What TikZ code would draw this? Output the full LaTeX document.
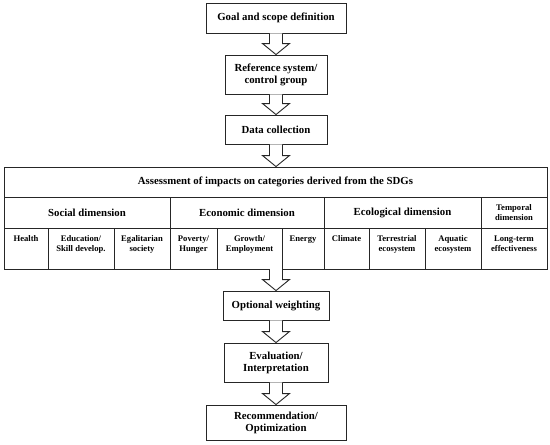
\documentclass[tikz,border=0pt]{standalone}
\usepackage{fontspec}
\setmainfont{Liberation Serif}
\usetikzlibrary{calc}
\newcommand\blockarrow[2]{%
  \draw[arrowline] let \p1=(#1), \p2=(#2) in
  (\x1-6.5pt,\y1) -- (\x1-6.5pt,\y2+11pt) -- (\x1-13.5pt,\y2+11pt) -- (\x1,\y2)
  -- (\x1+13.5pt,\y2+11pt) -- (\x1+6.5pt,\y2+11pt) -- (\x1+6.5pt,\y1);}
\newcommand\tcell[6]{%
  \node[cellbox, minimum width={(#4-#2)*1pt}, minimum height={(#5-#3)*1pt},
        label={[celltext]north:{#6}}] (#1) at ({(#2+#4)/2},{(#3+#5)/2}) {};}
\newcommand\dcell[6]{%
  \node[cellbox, minimum width={(#4-#2)*1pt}, minimum height={(#5-#3)*1pt}, #6] (#1) at ({(#2+#4)/2},{(#3+#5)/2})}
\begin{document}
\begin{tikzpicture}[x=1pt,y=-1pt,
  flowbox/.style={draw=black!85, line width=0.9pt, align=center, inner sep=0pt,
    font=\bfseries\fontsize{10.8}{12}\selectfont},
  cellbox/.style={draw=black!85, line width=0.9pt, inner sep=0pt, align=center},
  celltext/.style={font=\bfseries\fontsize{8.6}{9.8}\selectfont, align=center,
    anchor=north, inner sep=0pt, yshift=-8pt},
  bigtext/.style={font=\bfseries\fontsize{10.8}{12}\selectfont},
  smalltext/.style={font=\bfseries\fontsize{8.6}{9.8}\selectfont},
  arrowline/.style={draw=black!85, line width=0.9pt, fill=white, line join=miter}
]
\useasboundingbox (0,0) rectangle (550,445);

% flow boxes
\node[flowbox, minimum width=140pt, minimum height=30pt] (goal) at (276,18) {Goal and scope definition};
\node[flowbox, minimum width=102pt, minimum height=39pt] (ref) at (276,74.5) {Reference system/\\control group};
\node[flowbox, minimum width=102pt, minimum height=29pt] (data) at (276,129.5) {Data collection};

% table
\dcell{head}{4}{167}{547}{197}{bigtext}{Assessment of impacts on categories derived from the SDGs};
\dcell{social}{4}{197}{170}{228}{bigtext}{Social dimension};
\dcell{economic}{170}{197}{324}{228}{bigtext}{Economic dimension};
\dcell{ecological}{324}{197}{481}{228}{bigtext}{Ecological dimension};
\dcell{temporal}{481}{197}{547}{228}{smalltext}{Temporal\\dimension};
\tcell{health}{4}{228}{48}{269}{Health}
\tcell{education}{48}{228}{114}{269}{Education/\\Skill develop.}
\tcell{egal}{114}{228}{170}{269}{Egalitarian\\society}
\tcell{poverty}{170}{228}{217}{269}{Poverty/\\Hunger}
\tcell{growth}{217}{228}{282}{269}{Growth/\\Employment}
\tcell{energy}{282}{228}{324}{269}{Energy}
\tcell{climate}{324}{228}{369}{269}{Climate}
\tcell{terr}{369}{228}{425}{269}{Terrestrial\\ecosystem}
\tcell{aqua}{425}{228}{481}{269}{Aquatic\\ecosystem}
\tcell{longterm}{481}{228}{547}{269}{Long-term\\effectiveness}
\coordinate (tablebottom) at (276,269);

\node[flowbox, minimum width=106pt, minimum height=29pt] (opt) at (276,305.5) {Optional weighting};
\node[flowbox, minimum width=104pt, minimum height=39pt] (eval) at (276,362.5) {Evaluation/\\Interpretation};
\node[flowbox, minimum width=140pt, minimum height=35pt] (rec) at (276,422.5) {Recommendation/\\Optimization};

% block arrows
\blockarrow{goal.south}{ref.north}
\blockarrow{ref.south}{data.north}
\blockarrow{data.south}{head.north}
\blockarrow{tablebottom}{opt.north}
\blockarrow{opt.south}{eval.north}
\blockarrow{eval.south}{rec.north}
\end{tikzpicture}
\end{document}
